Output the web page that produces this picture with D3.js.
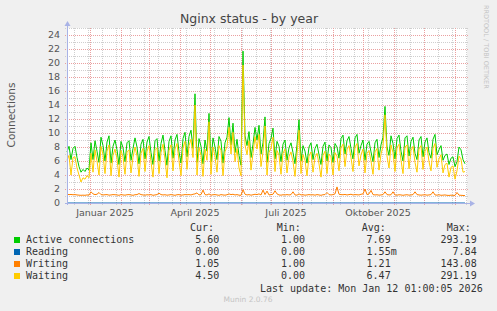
<!DOCTYPE html>
<html>
<head>
<meta charset="utf-8">
<script src="https://cdn.jsdelivr.net/npm/d3@7/dist/d3.min.js"></script>
<style>
    html, body { margin: 0; padding: 0; background: #f0f0f0; }
    svg { display: block; }
    text { font-family: 'DejaVu Sans', sans-serif; }
    .mono { font-family: 'DejaVu Sans Mono', monospace; font-size: 10px; fill: #333; white-space: pre; }
</style>
</head>
<body>
<div id="chart"></div>
<script>
'use strict';

// one sample every 2 days, first one on 9 Dec 2024 (noon)
var firstSample = new Date(2024, 11, 9, 12),
    sampleStepDays = 2;

var active = [
    7.3, 8.1, 6.2, 7.8, 8.1, 6.5, 5.2, 4.4, 4.8, 4.5, 5.0, 4.7, 8.6,
    6.2, 8.9, 7.4, 5.8, 9.4, 8.2, 6.0, 8.7, 9.6, 5.7, 8.1, 9.0, 7.6, 5.5, 8.8, 7.9, 5.9, 8.6,
    8.9, 6.1, 7.8, 9.3, 8.0, 5.6, 8.4, 9.1, 6.3, 8.7, 9.5, 7.2, 5.5, 8.9, 9.2, 6.0, 8.5, 9.7,
    7.5, 5.4, 8.8, 9.6, 6.4, 9.0, 9.8, 7.3, 5.7, 9.2, 10.1, 6.6, 9.5, 10.4, 7.8, 15.6, 5.8, 9.2,
    8.1, 5.6, 9.0, 7.4, 12.8, 5.9, 9.3, 8.0, 6.2, 9.5, 8.8, 5.7, 8.6, 9.4, 12.2, 8.3, 11.4, 7.2,
    9.1, 6.8, 5.4, 21.7, 9.6, 8.2, 10.2, 6.5, 8.4, 10.8, 9.0, 11.1, 7.0, 8.6, 12.3, 5.8, 8.5, 9.2,
    10.7, 6.3, 8.8, 8.1, 5.9, 8.4, 9.0, 6.1, 7.9, 8.6, 7.2, 5.6, 8.3, 11.9, 6.0, 8.2, 7.4, 5.7,
    8.0, 8.6, 6.2, 7.8, 8.4, 6.9, 5.5, 8.1, 8.7, 6.0, 8.3, 7.9, 5.8, 8.5, 8.0, 6.4, 9.2, 9.7,
    7.0, 8.9, 9.5, 7.8, 6.3, 9.3, 9.8, 7.1, 8.2, 9.0, 6.1, 8.4, 8.8, 7.3, 5.9, 8.6, 9.1, 6.5,
    8.3, 9.4, 13.8, 8.0, 6.8, 9.6, 8.5, 6.3, 9.2, 9.7, 7.4, 6.0, 9.3, 9.6, 6.7, 8.8, 9.4, 7.1,
    6.2, 9.0, 9.5, 6.6, 8.7, 9.3, 7.2, 6.4, 9.1, 9.8, 6.9, 7.6, 8.2, 6.1, 6.8, 7.0, 5.5, 6.4,
    6.6, 5.2, 5.9, 8.0, 7.6, 6.2, 5.6
];
var reading = [
    0, 0, 0, 0, 0, 0, 0, 0, 0, 0, 0, 0, 0, 0, 0, 0, 0, 0, 0, 0,
    0, 0, 0, 0, 0, 0, 0, 0, 0, 0, 0, 0, 0, 0, 0, 0, 0, 0, 0, 0,
    0, 0, 0, 0, 0, 0, 0, 0, 0, 0, 0, 0, 0, 0, 0, 0, 0, 0, 0, 0,
    0, 0, 0, 0, 0, 0, 0, 0, 0, 0, 0, 0, 0, 0, 0, 0, 0, 0, 0, 0,
    0, 0, 0, 0, 0, 0, 0, 0, 0, 0, 0, 0, 0, 0, 0, 0, 0, 0, 0, 0,
    0, 0, 0, 0, 0, 0, 0, 0, 0, 0, 0, 0, 0, 0, 0, 0, 0, 0, 0, 0,
    0, 0, 0, 0, 0, 0, 0, 0, 0, 0, 0, 0, 0, 0, 0, 0, 0, 0, 0, 0,
    0, 0, 0, 0, 0, 0, 0, 0, 0, 0, 0, 0, 0, 0, 0, 0, 0, 0, 0, 0,
    0, 0, 0, 0, 0, 0, 0, 0, 0, 0, 0, 0, 0, 0, 0, 0, 0, 0, 0, 0,
    0, 0, 0, 0, 0, 0, 0, 0, 0, 0, 0, 0, 0, 0, 0, 0, 0, 0, 0, 0
];
var writing = [
    1.25, 1.2, 1.22, 1.18, 1.2, 1.15, 1.12, 1.1, 1.12, 1.1, 1.15, 1.12, 1.6,
    1.3, 1.2, 1.25, 1.5, 1.2, 1.15, 1.18, 1.2, 1.12, 1.15, 1.2,
    1.18, 1.15, 1.1, 1.2, 1.15, 1.12, 1.18, 1.2, 1.15, 1.1, 1.18, 1.2,
    1.35, 1.2, 1.15, 1.12, 1.18, 1.15, 1.2, 1.1, 1.15, 1.2, 1.4, 1.2,
    1.15, 1.18, 1.12, 1.15, 1.2, 1.15, 1.1, 1.18, 1.2, 1.12, 1.15, 1.2,
    1.18, 1.2, 1.15, 1.25, 1.3, 1.45, 1.15, 1.2, 1.85, 1.2, 1.15, 1.3,
    1.12, 1.18, 1.2, 1.15, 1.1, 1.2, 1.15, 1.12, 1.18, 1.3, 1.2, 1.25,
    1.15, 1.2, 1.12, 1.1, 1.9, 1.25, 1.15, 1.2, 1.12, 1.18, 1.25, 1.2,
    1.3, 1.15, 1.85, 1.2, 1.7, 1.15, 1.2, 1.25, 1.75, 1.3, 1.15, 1.12,
    1.18, 1.15, 1.2, 1.15, 1.2, 1.6, 1.15, 1.12, 1.3, 1.15, 1.18, 1.12,
    1.15, 1.2, 1.15, 1.18, 1.12, 1.2, 1.15, 1.1, 1.18, 1.2, 1.5, 1.2,
    1.15, 1.2, 1.3, 2.3, 1.25, 1.2, 1.18, 1.22, 1.15, 1.2, 1.25, 1.15,
    1.2, 1.18, 1.15, 1.25, 1.3, 2.0, 1.2, 1.3, 1.8, 1.2, 1.15, 1.18,
    1.12, 1.15, 1.2, 1.6, 1.2, 1.15, 1.18, 1.6, 1.15, 1.12, 1.18, 1.15,
    1.1, 1.15, 1.18, 1.12, 1.15, 1.2, 1.6, 1.2, 1.15, 1.12, 1.15, 1.18,
    1.12, 1.15, 1.2, 1.6, 1.15, 1.12, 1.18, 1.1, 1.12, 1.15, 1.1, 1.08,
    1.12, 1.1, 1.08, 1.5, 1.12, 1.1, 1.08, 1.05
];
var waiting = [
    6.1, 6.8, 4.0, 6.5, 6.6, 5.0, 4.0, 3.0, 3.6, 3.4, 3.9, 3.6, 7.1,
    4.4, 7.6, 6.0, 4.0, 8.1, 6.9, 4.2, 7.4, 8.3, 3.9, 6.8, 7.7, 6.3, 3.7, 7.5, 6.6, 4.1, 7.3,
    7.6, 4.3, 6.5, 8.0, 6.7, 3.8, 7.1, 7.8, 4.5, 7.4, 8.2, 5.9, 3.7, 7.6, 7.9, 4.2, 7.2, 8.4,
    6.2, 3.6, 7.5, 8.3, 4.6, 7.7, 8.5, 6.0, 3.9, 7.9, 8.8, 4.8, 8.2, 9.1, 6.5, 14.0, 4.0, 7.9,
    6.8, 3.8, 7.7, 6.1, 11.6, 4.1, 8.0, 6.7, 4.4, 8.2, 7.5, 3.9, 7.3, 8.1, 10.8, 7.0, 10.1, 5.9,
    7.8, 5.0, 3.9, 19.7, 8.3, 6.9, 8.9, 4.7, 7.1, 9.5, 7.7, 9.8, 5.2, 7.3, 11.0, 4.0, 7.2, 7.9,
    9.4, 4.5, 7.5, 6.8, 4.1, 7.1, 7.7, 4.3, 6.6, 7.3, 5.9, 3.8, 7.0, 10.4, 4.2, 6.9, 6.1, 3.9,
    6.7, 7.3, 4.4, 6.5, 7.1, 5.6, 3.7, 6.8, 7.4, 4.2, 7.0, 6.6, 4.0, 7.2, 6.7, 4.6, 7.9, 8.4,
    5.2, 7.6, 8.2, 6.5, 4.5, 8.0, 8.5, 5.3, 6.9, 7.7, 4.3, 7.1, 7.5, 6.0, 4.1, 7.3, 7.8, 4.7,
    7.0, 8.1, 12.6, 6.7, 5.0, 8.3, 7.2, 4.5, 7.9, 8.4, 6.1, 4.2, 8.0, 8.3, 4.9, 7.5, 8.1, 5.8,
    4.4, 7.7, 8.2, 4.8, 7.4, 8.0, 5.9, 4.6, 7.8, 8.5, 5.1, 6.3, 6.9, 4.3, 5.5, 5.7, 3.7, 5.1,
    5.3, 3.4, 4.6, 6.7, 6.3, 4.4, 4.5
];

var seriesNames = ['Active connections', 'Reading', 'Writing', 'Waiting'],
    seriesColors = ['#00cc00', '#0066b3', '#ff8000', '#ffcc00'],
    seriesValues = [active, reading, writing, waiting],
    curValues = ['5.60 ', '0.00 ', '1.05 ', '4.50 '],
    minValues = ['1.00 ', '0.00 ', '1.00 ', '0.00 '],
    avgValues = ['7.69 ', '1.55m', '1.21 ', '6.47 '],
    maxValues = ['293.19 ', '7.84 ', '143.08 ', '291.19 '];

var yTicks = [0, 2, 4, 6, 8, 10, 12, 14, 16, 18, 20, 22, 24],
    monthLabelDates = [new Date(2025, 0, 1), new Date(2025, 3, 1), new Date(2025, 6, 1), new Date(2025, 9, 1)],
    monthLabelTexts = ['Januar 2025', 'April 2025', 'Juli 2025', 'Oktober 2025'];

var width = 497,
    height = 311,
    plotLeft = 67,
    plotRight = 467,
    plotTop = 28,
    plotBottom = 203,
    axisColor = '#a9b3e6',
    startTime = firstSample,
    endTime = d3.timeDay.offset(firstSample, 400);

var svg = d3.select('#chart').append('svg').attr('width', width).attr('height', height);

var x = d3.scaleTime().domain([startTime, endTime]).range([plotLeft, plotRight]),
    y = d3.scaleLinear().domain([0, 25]).range([plotBottom, plotTop]);

function sampleDate(i) {
    return d3.timeDay.offset(firstSample, i * sampleStepDays);
}

svg.append('rect').attr('width', width).attr('height', height).attr('fill', '#f0f0f0');
svg.append('rect').attr('x', plotLeft).attr('y', plotTop)
    .attr('width', plotRight - plotLeft).attr('height', plotBottom - plotTop).attr('fill', '#ffffff');

// grid: gray minor lines, red major lines
var minorY = d3.range(1, 26).filter(function (v) { return v % 2; }),
    majorY = yTicks.slice(1),
    minorX = d3.timeDay.range(new Date(2024, 11, 16), endTime, 14),
    majorX = d3.timeMonth.range(startTime, endTime);

var grid = svg.append('g').attr('stroke-dasharray', '1,1').attr('stroke-width', 1);

grid.selectAll('.minor-y').data(minorY).enter().append('line')
    .attr('x1', plotLeft - 2).attr('x2', plotRight + 2)
    .attr('y1', function (d) { return Math.round(y(d)) + 0.5; })
    .attr('y2', function (d) { return Math.round(y(d)) + 0.5; })
    .attr('stroke', '#cfcfcf');

grid.selectAll('.minor-x').data(minorX).enter().append('line')
    .attr('x1', function (d) { return Math.round(x(d)) + 0.5; })
    .attr('x2', function (d) { return Math.round(x(d)) + 0.5; })
    .attr('y1', plotTop).attr('y2', plotBottom + 2)
    .attr('stroke', '#cfcfcf');

grid.selectAll('.major-y').data(majorY).enter().append('line')
    .attr('x1', plotLeft - 2).attr('x2', plotRight + 2)
    .attr('y1', function (d) { return Math.round(y(d)) + 0.5; })
    .attr('y2', function (d) { return Math.round(y(d)) + 0.5; })
    .attr('stroke', '#eaa0a0');

grid.selectAll('.major-x').data(majorX).enter().append('line')
    .attr('x1', function (d) { return Math.round(x(d)) + 0.5; })
    .attr('x2', function (d) { return Math.round(x(d)) + 0.5; })
    .attr('y1', plotTop).attr('y2', plotBottom + 2)
    .attr('stroke', '#eaa0a0');

// series lines
var line = d3.line()
    .x(function (d, i) { return x(sampleDate(i)); })
    .y(function (d) { return y(d); });

svg.append('g').selectAll('path').data(seriesValues).enter().append('path')
    .attr('d', line)
    .attr('fill', 'none')
    .attr('stroke', function (d, i) { return seriesColors[i]; })
    .attr('stroke-width', 1)
    .attr('stroke-linejoin', 'round');

// axes with arrows
var axes = svg.append('g').attr('stroke', axisColor).attr('fill', axisColor);
axes.append('line').attr('x1', plotLeft - 2).attr('x2', plotRight + 4)
    .attr('y1', plotBottom + 0.5).attr('y2', plotBottom + 0.5);
axes.append('line').attr('x1', plotLeft + 0.5).attr('x2', plotLeft + 0.5)
    .attr('y1', plotBottom + 2).attr('y2', plotTop - 3);
axes.append('path').attr('stroke', 'none')
    .attr('d', 'M' + (plotRight + 3) + ',' + (plotBottom - 2.5) + 'L' + (plotRight + 8) + ',' + (plotBottom + 0.5) + 'L' + (plotRight + 3) + ',' + (plotBottom + 3.5) + 'Z');
axes.append('path').attr('stroke', 'none')
    .attr('d', 'M' + (plotLeft - 2.5) + ',' + (plotTop - 2) + 'L' + (plotLeft + 0.5) + ',' + (plotTop - 7) + 'L' + (plotLeft + 3.5) + ',' + (plotTop - 2) + 'Z');

// tick labels
svg.append('g').selectAll('text').data(yTicks).enter().append('text')
    .attr('x', 60).attr('y', function (d) { return y(d); })
    .attr('dy', '0.36em')
    .attr('text-anchor', 'end')
    .style('font-size', '9.5px').attr('fill', '#555')
    .text(function (d) { return d; });

svg.append('g').selectAll('text').data(monthLabelDates).enter().append('text')
    .attr('x', function (d) { return x(new Date(+d + 15.5 * 864e5)); })
    .attr('y', 216)
    .attr('text-anchor', 'middle')
    .style('font-size', '9.5px').attr('fill', '#555')
    .text(function (d, i) { return monthLabelTexts[i]; });

// titles
svg.append('text').attr('x', 249).attr('y', 23).attr('text-anchor', 'middle')
    .style('font-size', '12.5px').attr('fill', '#444').text('Nginx status - by year');

svg.append('text').attr('transform', 'translate(15,115) rotate(-90)').attr('text-anchor', 'middle')
    .style('font-size', '10.5px').attr('fill', '#555').text('Connections');

svg.append('text').attr('transform', 'translate(484,5) rotate(90)')
    .style('font-size', '6.5px').attr('fill', '#c4c4c4').text('RRDTOOL / TOBI OETIKER');

// legend
var legend = svg.append('g');
var headers = [['Cur:', 190], ['Min:', 276.7], ['Avg:', 361.7], ['Max:', 446.7]];
legend.selectAll('.hdr').data(headers).enter().append('text').attr('class', 'mono')
    .attr('x', function (d) { return d[1]; }).attr('y', 231)
    .text(function (d) { return d[0]; });

var rows = legend.selectAll('.row').data(seriesNames).enter().append('g')
    .attr('transform', function (d, i) { return 'translate(0,' + (243.3 + i * 12) + ')'; });

rows.append('rect').attr('x', 14).attr('y', -6.3).attr('width', 6).attr('height', 6)
    .attr('fill', function (d, i) { return seriesColors[i]; });
rows.append('text').attr('class', 'mono').attr('x', 26).text(function (d) { return d; });

var columns = [[curValues, 225.3], [minValues, 311], [avgValues, 396.7], [maxValues, 482.7]];
columns.forEach(function (c) {
    rows.append('text').attr('class', 'mono').attr('x', c[1]).attr('text-anchor', 'end')
        .text(function (d, i) { return c[0][i]; });
});

legend.append('text').attr('class', 'mono').attr('x', 482.7).attr('y', 291.7).attr('text-anchor', 'end')
    .text('Last update: Mon Jan 12 01:00:05 2026');

svg.append('text').attr('x', 248).attr('y', 302.3).attr('text-anchor', 'middle')
    .style('font-size', '7.5px').attr('fill', '#c4c4c4').text('Munin 2.0.76');
</script>
</body>
</html>
